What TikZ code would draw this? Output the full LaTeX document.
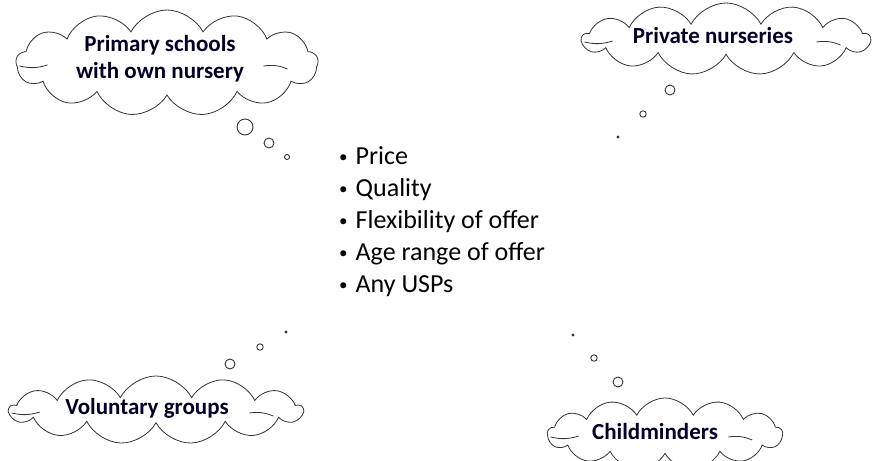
\documentclass[tikz,border=0pt]{standalone}
\usepackage{fontspec}
\setmainfont{Carlito}
\usetikzlibrary{shapes.symbols}
\tikzset{
  thought/.style={cloud,draw=black!80,line width=0.8pt,cloud puffs=13,cloud puff arc=125,aspect=4},
  label/.style={font=\fontsize{23}{27}\selectfont\bfseries,align=center,inner sep=0pt,text=black!85!blue},
  bubble/.style={draw=black!80,line width=0.9pt}
}
\newcommand\blt{{\fontsize{17}{17}\selectfont\raisebox{2pt}{\textbullet}}\hspace{8pt}}
\begin{document}
\begin{tikzpicture}[x=1pt,y=-1pt]
        \useasboundingbox (0,0) rectangle (874,460);
        % the four clouds
        \node[thought,minimum width=302,minimum height=106] (school) at (167,63) {};
        \node[thought,minimum width=288,minimum height=72] (private) at (726,39) {};
        \node[thought,minimum width=293,minimum height=68] (voluntary) at (156,410) {};
        \node[thought,minimum width=235,minimum height=72] (minder) at (665,434) {};
        % little inner curls at both ends
        \foreach \c in {school,private,voluntary,minder}
          \draw[black!80,line width=0.8pt] ([shift={(4,3)}]\c.west) to[bend right=15] ++(28,-1)
            ([shift={(-55,3)}]\c.east) to[bend left=15] ++(24,3);
        \node[label] (schooltxt) at (160,59) {Primary schools\\with own nursery};
        \node[label] (privatetxt) at (713,36) {Private nurseries};
        \node[label] (voluntarytxt) at (147,408) {Voluntary groups};
        \node[label] (mindertxt) at (655,432) {Childminders};
        % thought bubbles leading to the middle
        \draw[bubble] (245,127) circle(8) (269,143) circle(5) (287,157) circle(2.5);
        \draw[bubble] (670,90) circle(5) (643,114) circle(3.2);
        \fill[black!80] (618,137) circle(1.6);
        \draw[bubble] (230,364) circle(5) (260,347) circle(3.2);
        \fill[black!80] (286,332) circle(1.6);
        \draw[bubble] (618,382) circle(5) (594,358) circle(3.2);
        \fill[black!80] (573,335) circle(1.6);
        % what they compete on
        \node[font=\fontsize{26}{32}\selectfont,align=left,anchor=north west,inner sep=0pt] (factors) at (339,146)
          {\blt Price\\\blt Quality\\\blt Flexibility of offer\\\blt Age range of offer\\\blt Any USPs};
\end{tikzpicture}
\end{document}
